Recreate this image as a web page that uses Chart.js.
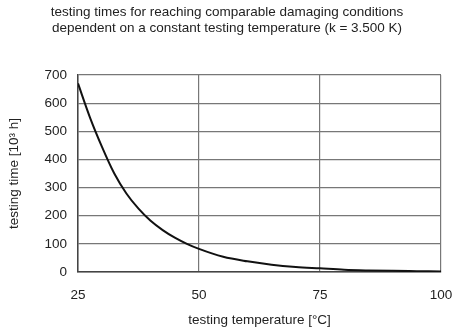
<!DOCTYPE html>
<html>
<head>
<meta charset="utf-8">
<script src="https://cdn.jsdelivr.net/npm/chart.js@4/dist/chart.umd.min.js"></script>
<style>
html,body{margin:0;padding:0;background:#fff;}
canvas{display:block;}
</style>
</head>
<body>
<canvas id="c" width="454" height="331"></canvas>
<script>
// testing temperature [°C]
const temperatures = [25, 27.5, 30, 32.5, 35, 37.5, 40, 42.5, 45, 47.5, 50, 55, 60, 65, 70, 75, 80, 85, 90, 95, 100];
// testing time [10^3 h]
const testingTimes = [670, 548, 443, 350, 279, 225, 182, 149, 122, 100, 82, 54, 38, 26, 18, 13, 8, 5.5, 4, 3, 2];
const xTicks = [25, 50, 75, 100];
const yTicks = [0, 100, 200, 300, 400, 500, 600, 700];
const titleLines = ['testing times for reaching comparable damaging conditions',
                    'dependent on a constant testing temperature (k = 3.500 K)'];
const xTitle = 'testing temperature [°C]';
const yTitle = 'testing time [10³ h]';

const FONT = "'Liberation Sans', Arial, sans-serif";
const FS = 13.5;
const points = temperatures.map((t, i) => ({x: t, y: testingTimes[i]}));

new Chart(document.getElementById('c'), {
  type: 'line',
  data: {
    datasets: [{
      data: points,
      borderColor: '#111',
      borderWidth: 2,
      pointRadius: 0,
      fill: false,
      cubicInterpolationMode: 'monotone'
    }]
  },
  options: {
    responsive: false,
    animation: false,
    layout: {padding: {left: 0, right: 0, top: 0, bottom: 0}},
    plugins: {
      legend: {display: false},
      tooltip: {enabled: false},
      title: {
        display: true,
        text: titleLines,
        color: '#222',
        font: {family: FONT, size: FS, weight: 'normal', lineHeight: 1.13},
        padding: {top: 5, bottom: 39.5}
      }
    },
    scales: {
      x: {
        type: 'linear',
        min: 25, max: 100,
        afterBuildTicks: s => { s.ticks = xTicks.map(v => ({value: v})); },
        afterFit: s => { s.height = 59; s.paddingLeft = 0; s.paddingRight = 13; },
        grid: {color: '#777', lineWidth: 1.2, drawTicks: false},
        border: {color: '#444', width: 1.5},
        ticks: {color: '#222', padding: 15, font: {family: FONT, size: FS}, maxRotation: 0},
        title: {display: true, text: xTitle, color: '#222', font: {family: FONT, size: FS}, padding: {top: 0, bottom: 3}}
      },
      y: {
        min: 0, max: 700,
        afterBuildTicks: s => { s.ticks = yTicks.map(v => ({value: v})); },
        afterFit: s => { s.width = 78; },
        grid: {color: '#777', lineWidth: 1.2, drawTicks: false},
        border: {color: '#444', width: 1.5},
        ticks: {color: '#222', padding: 11, font: {family: FONT, size: FS}},
        title: {display: true, text: yTitle, color: '#222', font: {family: FONT, size: FS}, padding: {top: 6, bottom: 0}}
      }
    }
  }
});
</script>
</body>
</html>
